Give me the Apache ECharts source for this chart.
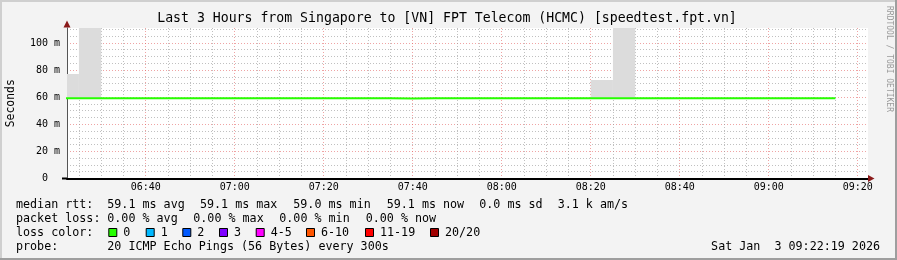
<!DOCTYPE html>
<html>
<head>
<meta charset="utf-8">
<script src="https://cdn.jsdelivr.net/npm/echarts@6/dist/echarts.min.js"></script>
<style>
html,body{margin:0;padding:0;background:#f3f3f3;}
#chart{width:897px;height:260px;}
</style>
</head>
<body>
<div id="chart"></div>
<script>
// ---------- data ----------
const titleText = 'Last 3 Hours from Singapore to [VN] FPT Telecom (HCMC) [speedtest.fpt.vn]';
const rangeStart = '06:22:19';
const rangeEnd = '09:22:19';
const stepMinutes = 5;

// 5-minute RRD intervals (start time of each)
const intervalStart = [
  '06:20','06:25','06:30','06:35','06:40','06:45','06:50','06:55',
  '07:00','07:05','07:10','07:15','07:20','07:25','07:30','07:35','07:40','07:45','07:50','07:55',
  '08:00','08:05','08:10','08:15','08:20','08:25','08:30','08:35','08:40','08:45','08:50','08:55',
  '09:00','09:05','09:10'
];
// median rtt (ms)
const medianRtt = [
  59.1,59.1,59.1,59.1,59.1,59.1,59.1,59.1,
  59.1,59.1,59.1,59.1,59.1,59.1,59.1,59.0,59.1,59.1,59.1,59.1,
  59.1,59.1,59.1,59.1,59.1,59.1,59.1,59.1,59.1,59.1,59.1,59.1,
  59.1,59.1,59.1
];
// smoke: lowest ping per interval (ms)
const smokeMin = [
  59.0,59.0,59.0,59.0,59.0,59.0,59.0,59.0,
  59.0,59.0,59.0,59.0,59.0,59.0,59.0,58.9,59.0,59.0,59.0,59.0,
  59.0,59.0,59.0,59.0,59.0,59.0,59.0,59.0,59.0,59.0,59.0,59.0,
  59.0,59.0,59.0
];
// smoke: highest ping per interval (ms); 150 = off the top of the chart
const smokeMax = [
  77.0,150,59.3,59.3,59.3,59.3,59.3,59.3,
  59.3,59.3,59.3,59.3,59.3,59.3,59.3,59.3,59.3,59.3,59.3,59.3,
  59.3,59.3,59.3,59.3,72.7,150,59.3,59.3,59.3,59.3,59.3,59.3,
  59.3,59.3,59.3
];

const xMajorLabels = ['06:40','07:00','07:20','07:40','08:00','08:20','08:40','09:00','09:20'];
const yMax = 111;
const yMajorTicks = [0,20,40,60,80,100];
const yMinorStep = 5;

const statsRtt = ['median rtt:', '59.1 ms avg', '59.1 ms max', '59.0 ms min', '59.1 ms now', '0.0 ms sd', '3.1 k am/s'];
const statsLoss = ['packet loss:', '0.00 % avg', '0.00 % max', '0.00 % min', '0.00 % now'];
const lossLabels = ['0','1','2','3','4-5','6-10','11-19','20/20'];
const lossColors = ['#26ff00','#00b8ff','#0059ff','#7e00ff','#ff00ff','#ff5500','#ff0000','#a10000'];
const probeText = ['probe:', '20 ICMP Echo Pings (56 Bytes) every 300s'];
const dateText = 'Sat Jan  3 09:22:19 2026';
const watermark = 'RRDTOOL / TOBI OETIKER';

// ---------- helpers ----------
const FONT = '"DejaVu Sans Mono", "Liberation Mono", monospace';
const toMin = s => { const p = s.split(':').map(Number); return p[0] * 60 + p[1] + (p[2] || 0) / 60; };
const fmt = m => { const h = Math.floor(m / 60 + 1e-6); const mm = Math.round(m - h * 60); return String(h).padStart(2, '0') + ':' + String(mm).padStart(2, '0'); };
const X_MIN = toMin(rangeStart), X_MAX = toMin(rangeEnd);

function stepData(vals) {
  const d = intervalStart.map((t, i) => [toMin(t), vals[i]]);
  d.push([toMin(intervalStart[intervalStart.length - 1]) + stepMinutes, vals[vals.length - 1]]);
  return d;
}
const smokeData = intervalStart.map((t, i) => [toMin(t), toMin(t) + stepMinutes, smokeMin[i], smokeMax[i]]);

const xMajor = xMajorLabels.map(toMin);
const xMinor = [];
for (let m = Math.ceil(X_MIN / stepMinutes) * stepMinutes; m <= X_MAX; m += stepMinutes) {
  if (!xMajor.some(v => Math.abs(v - m) < 1e-6)) xMinor.push(m);
}
const yMinor = [];
for (let v = yMinorStep; v <= yMax; v += yMinorStep) {
  if (!yMajorTicks.includes(v)) yMinor.push(v);
}

const majorGrid = { show: true, lineStyle: { color: 'rgba(225,90,90,0.55)', type: [1, 2], width: 1 } };
const minorGrid = { show: true, lineStyle: { color: 'rgba(150,150,150,0.6)', type: [1, 2], width: 1 } };

// ---------- graphic decorations ----------
const g = [];
g.push({ type: 'rect', shape: { x: 0, y: 0, width: 897, height: 2 }, style: { fill: '#cfcfcf' }, silent: true });
g.push({ type: 'rect', shape: { x: 0, y: 0, width: 2, height: 260 }, style: { fill: '#cfcfcf' }, silent: true });
g.push({ type: 'rect', shape: { x: 0, y: 258, width: 897, height: 2 }, style: { fill: '#9e9e9e' }, silent: true });
g.push({ type: 'rect', shape: { x: 895, y: 0, width: 2, height: 260 }, style: { fill: '#9e9e9e' }, silent: true });
g.push({ type: 'text', x: 447, y: 19, style: { text: titleText, font: '13.2px ' + FONT, fill: '#000', align: 'center', verticalAlign: 'middle' }, silent: true });
g.push({ type: 'text', x: 889, y: 59, rotation: -Math.PI / 2, style: { text: watermark, font: '8px ' + FONT, fill: '#9a9a9a', align: 'center', verticalAlign: 'middle' }, silent: true });
g.push({ type: 'polygon', shape: { points: [[63.5, 27.5], [70.5, 27.5], [67, 20.5]] }, style: { fill: '#8a1a1a' }, z: 10, silent: true });
g.push({ type: 'polygon', shape: { points: [[868, 175], [868, 182], [874.5, 178.5]] }, style: { fill: '#8a1a1a' }, z: 10, silent: true });
g.push({ type: 'line', shape: { x1: 62, y1: 178.5, x2: 67, y2: 178.5 }, style: { stroke: '#000', lineWidth: 2 }, z: 10, silent: true });
const legFont = '11.7px ' + FONT;
const txt = (s, x, y, align) => ({ type: 'text', x, y, style: { text: s, font: legFont, fill: '#000', align: align || 'left', verticalAlign: 'middle' }, silent: true });
const rttX = [16, 107.3, 200, 293.3, 386.7, 479.3, 557.7];
statsRtt.forEach((s, i) => g.push(txt(s, rttX[i], 204.5)));
const lossX = [16, 107.3, 193.3, 279.3, 365.7];
statsLoss.forEach((s, i) => g.push(txt(s, lossX[i], 218.5)));
g.push(txt('loss color:', 16, 232.5));
const boxX = [108.3, 145.7, 182.3, 219, 255.7, 306, 365, 430];
lossLabels.forEach((s, i) => {
  g.push({ type: 'rect', shape: { x: boxX[i] + 0.5, y: 228.5, width: 8, height: 8 }, style: { fill: lossColors[i], stroke: '#000', lineWidth: 1 }, silent: true });
  g.push(txt(s, boxX[i] + 15, 232.5));
});
g.push(txt(probeText[0], 16, 246.5));
g.push(txt(probeText[1], 107.3, 246.5));
g.push(txt(dateText, 880, 246.5, 'right'));

// ---------- chart ----------
const chart = echarts.init(document.getElementById('chart'), null, { renderer: 'canvas' });
chart.setOption({
  animation: false,
  backgroundColor: '#f3f3f3',
  grid: { left: 67, right: 29, top: 28, bottom: 81.5, show: true, backgroundColor: '#ffffff', borderWidth: 0, containLabel: false, outerBoundsMode: 'none' },
  xAxis: [
    {
      type: 'value', min: X_MIN, max: X_MAX, position: 'bottom',
      axisLine: { show: true, onZero: false, lineStyle: { color: '#000', width: 2 } },
      axisTick: { show: false, customValues: xMajor },
      axisLabel: { show: true, customValues: xMajor, formatter: v => fmt(v), margin: 4, color: '#000', fontFamily: FONT, fontSize: 10 },
      splitLine: majorGrid
    },
    {
      type: 'value', min: X_MIN, max: X_MAX, position: 'bottom',
      axisLine: { show: false },
      axisTick: { show: false, customValues: xMinor },
      axisLabel: { show: false, customValues: xMinor },
      splitLine: minorGrid
    }
  ],
  yAxis: [
    {
      type: 'value', min: 0, max: yMax,
      name: 'Seconds', nameLocation: 'middle', nameRotate: 90, nameGap: 50,
      nameTextStyle: { fontFamily: FONT, fontSize: 11.4, color: '#000' },
      axisLine: { show: true, lineStyle: { color: '#555', width: 1 } },
      axisTick: { show: false, customValues: yMajorTicks },
      axisLabel: { show: true, customValues: yMajorTicks, formatter: v => v === 0 ? '0  ' : v + ' m', margin: 7, color: '#000', fontFamily: FONT, fontSize: 10 },
      splitLine: majorGrid
    },
    {
      type: 'value', min: 0, max: yMax,
      axisLine: { show: false },
      axisTick: { show: false, customValues: yMinor },
      axisLabel: { show: false, customValues: yMinor },
      splitLine: minorGrid
    }
  ],
  series: [
    {
      type: 'custom', name: 'smoke', silent: true, clip: true,
      encode: { x: [0, 1], y: [2, 3] },
      data: smokeData,
      renderItem: (params, api) => {
        const a = api.coord([api.value(0), api.value(3)]);
        const b = api.coord([api.value(1), api.value(2)]);
        const cs = params.coordSys;
        const x0 = Math.max(a[0], cs.x), x1 = Math.min(b[0], cs.x + cs.width);
        const y0 = Math.max(a[1], cs.y), y1 = Math.min(b[1], cs.y + cs.height);
        if (x1 <= x0 || y1 <= y0) return null;
        return { type: 'rect', shape: { x: x0, y: y0, width: x1 - x0, height: y1 - y0 }, style: { fill: '#dcdcdc' } };
      }
    },
    {
      type: 'line', name: 'median rtt', step: 'end', symbol: 'none',
      data: stepData(medianRtt), lineStyle: { color: '#26ff00', width: 2 }, z: 5, silent: true, clip: true
    }
  ],
  graphic: g
});
</script>
</body>
</html>
